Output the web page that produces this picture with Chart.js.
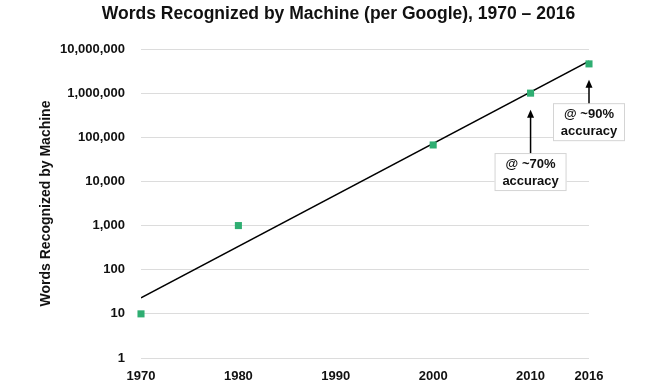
<!DOCTYPE html>
<html>
<head>
<meta charset="utf-8">
<script src="https://cdn.jsdelivr.net/npm/chart.js@4.4.0/dist/chart.umd.min.js"></script>
<style>
  html, body { margin: 0; padding: 0; background: #fff; }
  #wrap { width: 651px; height: 389px; }
</style>
</head>
<body>
<div id="wrap"><canvas id="wordsChart"></canvas></div>
<script>
Chart.defaults.font.family = "'Liberation Sans', Arial, sans-serif";
Chart.defaults.color = '#111';

const chartTitle = 'Words Recognized by Machine (per Google), 1970 – 2016';

const years = [1970, 1980, 2000, 2010, 2016];
const words = [10, 1000, 67000, 1000000, 4600000];

const trendYears = [1970, 2016];
const trendWords = [23, 5300000];

const xTicks = [1970, 1980, 1990, 2000, 2010, 2016];
const yTicks = [1, 10, 100, 1000, 10000, 100000, 1000000, 10000000];

const notes = [
    {lines: ['@ ~70%', 'accuracy'], year: 2010, tip: 420000, box: 16300},
    {lines: ['@ ~90%', 'accuracy'], year: 2016, tip: 2000000, box: 220000}
];

// title drawn by hand, it sits a bit right of centre in the original
const titlePlugin = {
    id: 'bigTitle',
    afterDraw(chart) {
        const ctx = chart.ctx;
        ctx.save();
        ctx.fillStyle = '#111';
        ctx.font = "bold 17.5px 'Liberation Sans', Arial, sans-serif";
        ctx.textAlign = 'center';
        ctx.textBaseline = 'middle';
        ctx.fillText(chartTitle, chart.width / 2 + 13, 14);
        ctx.restore();
    }
};

// boxes + arrows drawn on top, placed through the chart's own scales
const notePlugin = {
    id: 'notes',
    afterDatasetsDraw(chart) {
        const ctx = chart.ctx;
        const xs = chart.scales.x, ys = chart.scales.y;
        ctx.save();
        for (let n of notes) {
            let x = xs.getPixelForValue(n.year);
            let tipY = ys.getPixelForValue(n.tip);
            let cy = ys.getPixelForValue(n.box);
            let w = 72, h = 38;
            let top = cy - h / 2;

            ctx.fillStyle = '#fff';
            ctx.strokeStyle = '#d4d4d4';
            ctx.lineWidth = 1;
            ctx.fillRect(x - w / 2, top, w, h);
            ctx.strokeRect(x - w / 2 + 0.5, top + 0.5, w - 1, h - 1);

            ctx.fillStyle = '#111';
            ctx.font = "bold 13px 'Liberation Sans', Arial, sans-serif";
            ctx.textAlign = 'center';
            ctx.textBaseline = 'middle';
            ctx.fillText(n.lines[0], x, cy - 8);
            ctx.fillText(n.lines[1], x, cy + 9);

            // arrow
            ctx.strokeStyle = '#000';
            ctx.lineWidth = 1.5;
            ctx.beginPath();
            ctx.moveTo(x, top);
            ctx.lineTo(x, tipY + 5);
            ctx.stroke();
            ctx.fillStyle = '#000';
            ctx.beginPath();
            ctx.moveTo(x, tipY);
            ctx.lineTo(x - 3.5, tipY + 8);
            ctx.lineTo(x + 3.5, tipY + 8);
            ctx.closePath();
            ctx.fill();
        }
        ctx.restore();
    }
};

new Chart(document.getElementById('wordsChart').getContext('2d'), {
    data: {
        datasets: [
            {
                type: 'line',
                label: 'Trend',
                data: trendYears.map((y, i) => ({x: y, y: trendWords[i]})),
                borderColor: '#000',
                borderWidth: 1.5,
                pointRadius: 0,
                fill: false,
                order: 2
            },
            {
                type: 'scatter',
                label: 'Words',
                data: years.map((y, i) => ({x: y, y: words[i]})),
                pointStyle: 'rect',
                pointRadius: 5,
                backgroundColor: '#2fae72',
                borderColor: '#2fae72',
                borderWidth: 0,
                clip: false,
                order: 1
            }
        ]
    },
    options: {
        responsive: true,
        maintainAspectRatio: false,
        animation: false,
        layout: { padding: { left: 0, right: 62, top: 49, bottom: 0 } },
        plugins: {
            legend: { display: false },
            tooltip: { enabled: false },
            title: { display: false }
        },
        scales: {
            x: {
                type: 'linear',
                min: 1970,
                max: 2016,
                afterBuildTicks: s => { s.ticks = xTicks.map(v => ({value: v})) },
                afterFit: s => { s.height = 31 },
                grid: { display: false },
                border: { display: false },
                ticks: {
                    color: '#111',
                    font: { size: 13, weight: 'bold' },
                    padding: 3,
                    maxRotation: 0,
                    callback: v => String(v)
                }
            },
            y: {
                type: 'logarithmic',
                min: 1,
                max: 10000000,
                afterBuildTicks: s => { s.ticks = yTicks.map(v => ({value: v})) },
                afterFit: s => { s.width = 141 },
                grid: { color: '#dcdcdc', drawTicks: false },
                border: { display: false },
                ticks: {
                    color: '#111',
                    font: { size: 13, weight: 'bold' },
                    padding: 16,
                    callback: v => v.toLocaleString('en-US')
                },
                title: {
                    display: true,
                    text: 'Words Recognized by Machine',
                    color: '#111',
                    font: { size: 14, weight: 'bold' },
                    padding: { top: 38, bottom: 0 }
                }
            }
        }
    },
    plugins: [notePlugin, titlePlugin]
});
</script>
</body>
</html>
